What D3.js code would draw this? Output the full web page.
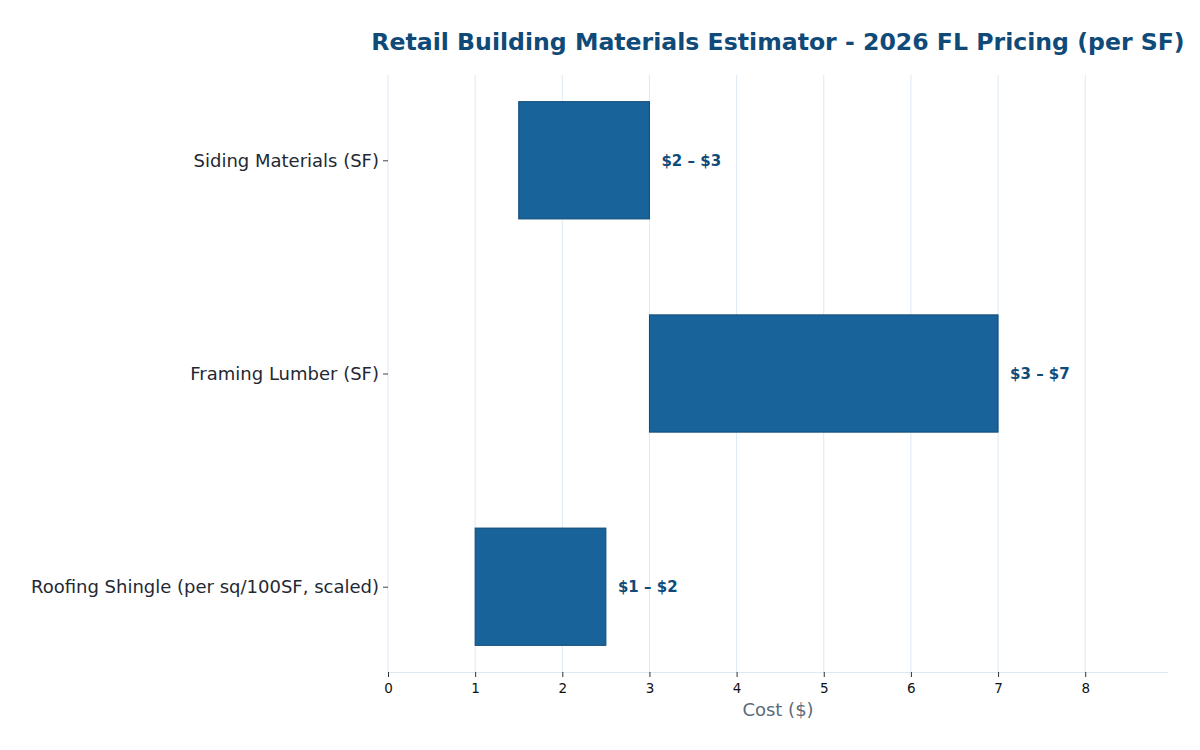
<!DOCTYPE html>
<html>
<head>
<meta charset="utf-8">
<script src="https://cdn.jsdelivr.net/npm/d3@7"></script>
<style>
  body { margin: 0; background: #fff; }
  svg text { font-family: "DejaVu Sans", sans-serif; }
</style>
</head>
<body>
<div id="chart"></div>
<script>
// data
const categories = ["Siding Materials (SF)", "Framing Lumber (SF)", "Roofing Shingle (per sq/100SF, scaled)"];
const lowValues = [1.5, 3.0, 1.0];
const highValues = [3.0, 7.0, 2.5];
const rangeLabels = ["$2 \u2013 $3", "$3 \u2013 $7", "$1 \u2013 $2"];
const xTicks = [0, 1, 2, 3, 4, 5, 6, 7, 8];

const width = 1200;
const height = 750;
const margin = { top: 75, right: 32, bottom: 78, left: 388 };
const innerW = width - margin.left - margin.right;
const innerH = height - margin.top - margin.bottom;

const svg = d3.select("#chart")
  .append("svg")
  .attr("width", width)
  .attr("height", height);

const g = svg.append("g")
  .attr("transform", "translate(" + margin.left + "," + margin.top + ")");

// scales
const x = d3.scaleLinear()
  .domain([0, 8.95])
  .range([0, innerW]);

const y = d3.scalePoint()
  .domain(categories)
  .range([0, innerH])
  .padding(0.4);

const barH = y.step() * 0.55;

// grid lines
g.selectAll(".grid")
  .data(xTicks)
  .join("line")
  .attr("class", "grid")
  .attr("x1", d => x(d))
  .attr("x2", d => x(d))
  .attr("y1", 0)
  .attr("y2", innerH)
  .attr("stroke", "#dde9f3")
  .attr("stroke-width", 1);

// x axis
const xAxis = g.append("g")
  .attr("transform", "translate(0," + innerH + ")")
  .call(d3.axisBottom(x).tickValues(xTicks).tickSize(5).tickPadding(6).tickSizeOuter(0));
xAxis.select(".domain").attr("stroke", "#dde9f3");
xAxis.selectAll(".tick line").attr("stroke", "#333");
xAxis.selectAll("text")
  .attr("fill", "#111")
  .style("font-size", "13.5px");

// y axis
const yAxis = g.append("g")
  .call(d3.axisLeft(y).tickSize(5).tickPadding(4).tickSizeOuter(0));
yAxis.select(".domain").remove();
yAxis.selectAll(".tick line").attr("stroke", "#444");
yAxis.selectAll("text")
  .attr("fill", "#1f2933")
  .style("font-size", "18px");

// bars
g.selectAll(".bar")
  .data(categories)
  .join("rect")
  .attr("class", "bar")
  .attr("x", (d, i) => x(lowValues[i]))
  .attr("y", d => y(d) - barH / 2)
  .attr("width", (d, i) => x(highValues[i]) - x(lowValues[i]))
  .attr("height", barH)
  .attr("fill", "#186399")
  .attr("stroke", "#0f4a78")
  .attr("stroke-width", 1);

// value labels
g.selectAll(".lbl")
  .data(categories)
  .join("text")
  .attr("class", "lbl")
  .attr("x", (d, i) => x(highValues[i]) + 12)
  .attr("y", d => y(d))
  .attr("dy", "0.35em")
  .attr("fill", "#0f4a78")
  .style("font-size", "15px")
  .style("font-weight", "bold")
  .text((d, i) => rangeLabels[i]);

// axis title
svg.append("text")
  .attr("x", margin.left + innerW / 2)
  .attr("y", 716)
  .attr("text-anchor", "middle")
  .attr("fill", "#5c6b7a")
  .style("font-size", "18px")
  .text("Cost ($)");

// title
svg.append("text")
  .attr("x", margin.left + innerW / 2)
  .attr("y", 50)
  .attr("text-anchor", "middle")
  .attr("fill", "#0f4a78")
  .style("font-size", "23.6px")
  .style("font-weight", "bold")
  .text("Retail Building Materials Estimator - 2026 FL Pricing (per SF)");
</script>
</body>
</html>
